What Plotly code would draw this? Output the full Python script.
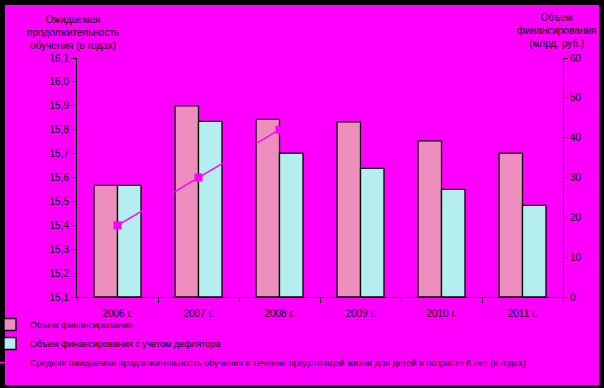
import plotly.graph_objects as go

years = ["2006 г.", "2007 г.", "2008 г.", "2009 г.", "2010 г.", "2011 г."]
funding = [28.0, 48.0, 44.6, 44.0, 39.2, 36.1]
funding_defl = [28.0, 44.1, 36.1, 32.3, 27.0, 23.0]
edu_years = [15.4, 15.6, 15.8]
edu_years_cats = years[:3]

left_ticks = [15.1, 15.2, 15.3, 15.4, 15.5, 15.6, 15.7, 15.8, 15.9, 16.0, 16.1]
left_ticktext = [f"{v:.1f}".replace(".", ",") for v in left_ticks]
right_ticks = [0, 10, 20, 30, 40, 50, 60]

MAG = "#FF00FF"
FONT = dict(family="Liberation Sans, Arial, sans-serif", size=10, color="black")

fig = go.Figure()
fig.add_trace(go.Bar(
    x=years, y=funding, name="Объем финансирования",
    marker=dict(color="#EE8EBE", line=dict(color="black", width=1.3)),
    yaxis="y",
))
fig.add_trace(go.Bar(
    x=years, y=funding_defl, name="Объем финансирования с учетом дефлятора",
    marker=dict(color="#B4EEEE", line=dict(color="black", width=1.3)),
    yaxis="y",
))
fig.add_trace(go.Scatter(
    x=edu_years_cats, y=edu_years,
    name="Средняя ожидаемая продолжительность обучения в течение предстоящей жизни для детей в возрасте 6 лет (в годах)",
    mode="lines+markers",
    line=dict(color=MAG, width=1.5),
    marker=dict(symbol="square", size=8, color=MAG),
    yaxis="y2",
))

W, H = 604, 388
L, R, T, B = 77, 41, 58, 91
pw, ph = W - L - R, H - T - B

def px(x):
    return (x - L) / pw

def py(y):
    return (H - B - y) / ph

fig.update_layout(
    width=W, height=H,
    margin=dict(l=L, r=R, t=T, b=B, autoexpand=False),
    paper_bgcolor="black",
    plot_bgcolor="rgba(0,0,0,0)",
    font=FONT,
    barmode="group",
    bargap=0.42,
    bargroupgap=0,
    showlegend=True,
    legend=dict(
        x=px(-10), y=py(310), xanchor="left", yanchor="top",
        bgcolor="rgba(0,0,0,0)", font=dict(size=9, color="black"),
        itemwidth=30, tracegroupgap=0, traceorder="normal",
    ),
    xaxis=dict(
        showgrid=False, showline=True, linecolor="black", linewidth=1,
        ticks="outside", tickcolor="black", ticklen=5, tickson="boundaries",
        tickfont=dict(size=10), mirror=False, ticklabelstandoff=7,
    ),
    yaxis=dict(
        side="right", range=[0, 60], tickvals=right_ticks,
        showgrid=False, zeroline=False, showline=True, linecolor="black",
        ticks="outside", tickcolor="black", ticklen=4, tickfont=dict(size=10),
    ),
    yaxis2=dict(
        side="left", overlaying="y", range=[15.1, 16.1],
        tickvals=left_ticks, ticktext=left_ticktext,
        showgrid=False, zeroline=False, showline=True, linecolor="black",
        ticks="outside", tickcolor="black", ticklen=5, tickfont=dict(size=10),
    ),
    shapes=[dict(
        type="rect", xref="paper", yref="paper", layer="below",
        x0=px(5), x1=px(599), y0=py(385), y1=py(5),
        fillcolor=MAG, line=dict(width=0),
    )],
    annotations=[
        dict(text="Ожидаемая<br>продолжительность<br>обучения (в годах)",
             xref="paper", yref="paper", x=px(73), y=py(12),
             xanchor="center", yanchor="top", showarrow=False,
             align="center", font=dict(size=10)),
        dict(text="Объем<br>финансирования<br>(млрд. руб.)",
             xref="paper", yref="paper", x=px(598), y=py(10),
             xanchor="right", yanchor="top", showarrow=False,
             align="center", font=dict(size=10)),
    ],
)

fig.write_html("out.html", config={"displayModeBar": False},
               post_script="document.body.style.margin='0';")
